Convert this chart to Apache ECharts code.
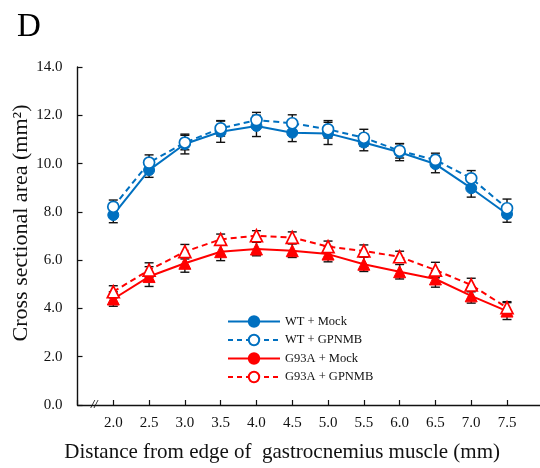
<!DOCTYPE html>
<html>
<head>
<meta charset="utf-8">
<script src="https://cdn.jsdelivr.net/npm/echarts@6/dist/echarts.min.js"></script>
<style>html,body{margin:0;padding:0;background:#fff;}#c{width:540px;height:468px;}</style>
</head>
<body>
<div id="c"></div>
<script>
// ---- data ----
var distances = [2.0, 2.5, 3.0, 3.5, 4.0, 4.5, 5.0, 5.5, 6.0, 6.5, 7.0, 7.5];
var wtMock      = [7.87, 9.73, 10.81, 11.32, 11.56, 11.28, 11.25, 10.87, 10.47, 9.98, 8.98, 7.91];
var wtMockErr   = [0.32, 0.30, 0.41, 0.44, 0.44, 0.37, 0.46, 0.34, 0.35, 0.36, 0.37, 0.34];
var wtGpnmb     = [8.21, 10.04, 10.87, 11.46, 11.80, 11.67, 11.42, 11.07, 10.53, 10.15, 9.39, 8.15];
var wtGpnmbErr  = [0.28, 0.32, 0.30, 0.32, 0.32, 0.35, 0.36, 0.35, 0.30, 0.28, 0.32, 0.38];
var g93aMock    = [4.39, 5.32, 5.87, 6.35, 6.46, 6.39, 6.25, 5.83, 5.52, 5.22, 4.52, 3.89];
var g93aMockErr = [0.30, 0.41, 0.37, 0.37, 0.28, 0.28, 0.32, 0.30, 0.30, 0.34, 0.30, 0.35];
var g93aGpnmb   = [4.69, 5.59, 6.35, 6.86, 7.01, 6.94, 6.56, 6.38, 6.14, 5.59, 4.97, 4.03];
var g93aGpnmbErr= [0.25, 0.30, 0.30, 0.22, 0.21, 0.23, 0.23, 0.25, 0.23, 0.32, 0.28, 0.25];
var seriesNames = ['WT + Mock', 'WT + GPNMB', 'G93A + Mock', 'G93A + GPNMB'];
var yTicks = [0, 2, 4, 6, 8, 10, 12, 14];

var BLUE = '#0070C0', RED = '#FF0000';
var FONT = '"Liberation Serif", "Times New Roman", serif';

function pairs(vals) { return distances.map(function (d, i) { return [d, vals[i]]; }); }
function errData(vals, errs) { return distances.map(function (d, i) { return [d, vals[i] - errs[i], vals[i] + errs[i]]; }); }

function errSeries(vals, errs) {
  return {
    type: 'custom',
    z: 1,
    silent: true,
    data: errData(vals, errs),
    renderItem: function (params, api) {
      var x = api.value(0);
      var lo = api.coord([x, api.value(1)]);
      var hi = api.coord([x, api.value(2)]);
      var w = 4.5;
      var st = { stroke: '#111', lineWidth: 1.4 };
      return {
        type: 'group',
        children: [
          { type: 'line', shape: { x1: lo[0], y1: lo[1], x2: hi[0], y2: hi[1] }, style: st },
          { type: 'line', shape: { x1: lo[0] - w, y1: lo[1], x2: lo[0] + w, y2: lo[1] }, style: st },
          { type: 'line', shape: { x1: hi[0] - w, y1: hi[1], x2: hi[0] + w, y2: hi[1] }, style: st }
        ]
      };
    }
  };
}

function lineSeries(name, vals, color, dashed, filled, symbol, size) {
  return {
    name: name,
    type: 'line',
    z: 3,
    data: pairs(vals),
    symbol: symbol,
    symbolSize: size,
    showAllSymbol: true,
    lineStyle: { color: color, width: 2, type: dashed ? [6, 4] : 'solid' },
    itemStyle: filled ? { color: color, borderColor: color, borderWidth: 1 } : { color: '#fff', borderColor: color, borderWidth: 1.7 },
    emphasis: { disabled: true }
  };
}

function legendSeries(name, color, dashed, filled) {
  return {
    name: name,
    type: 'line',
    data: [],
    symbol: 'circle',
    lineStyle: { color: color, width: 2, type: dashed ? [5, 4] : 'solid' },
    itemStyle: filled ? { color: color, borderColor: color, borderWidth: 1 } : { color: '#fff', borderColor: color, borderWidth: 1.6 }
  };
}

var chart = echarts.init(document.getElementById('c'), null, { renderer: 'canvas' });
chart.setOption({
  backgroundColor: '#fff',
  animation: false,
  title: {
    text: 'D', left: 12, top: 6,
    textStyle: { fontFamily: FONT, fontSize: 33, fontWeight: 'normal', color: '#000' }
  },
  legend: {
    data: seriesNames,
    orient: 'vertical',
    left: 222, top: 310,
    itemWidth: 52, itemHeight: 13, itemGap: 5.5,
    textStyle: { fontFamily: FONT, fontSize: 12.5, color: '#111' },
    selectedMode: false
  },
  grid: { left: 77.5, right: -2.8, top: 67, bottom: 63, containLabel: false, outerBoundsMode: 'none' },
  xAxis: {
    type: 'value',
    min: 1.5, max: 8.0, interval: 0.5,
    name: 'Distance from edge of  gastrocnemius muscle (mm)',
    nameLocation: 'middle', nameGap: 37,
    nameTextStyle: { fontFamily: FONT, fontSize: 21, color: '#111', padding: [0, 56, 0, 0] },
    axisLine: { onZero: false, lineStyle: { color: '#111', width: 1.4 } },
    axisTick: { inside: true, length: 5, lineStyle: { color: '#111', width: 1.2 } },
    axisLabel: {
      margin: 11,
      fontFamily: FONT, fontSize: 15, color: '#111',
      formatter: function (v) { return distances.indexOf(v) >= 0 ? v.toFixed(1) : ''; }
    },
    splitLine: { show: false }
  },
  yAxis: {
    type: 'value',
    min: yTicks[0], max: yTicks[yTicks.length - 1], interval: 2,
    name: 'Cross sectional area (mm²)',
    nameLocation: 'middle', nameGap: 45, nameMoveOverlap: false,
    nameTextStyle: { fontFamily: FONT, fontSize: 22, color: '#111', padding: [0, 0, 0, 26] },
    axisLine: { show: true, lineStyle: { color: '#111', width: 1.4 } },
    axisTick: { show: true, inside: true, length: 5, lineStyle: { color: '#111', width: 1.2 } },
    axisLabel: {
      margin: 15,
      fontFamily: FONT, fontSize: 15, color: '#111',
      formatter: function (v) { return v.toFixed(1); }
    },
    splitLine: { show: false }
  },
  graphic: [
    {
      type: 'text', left: 91, top: 399, z: 10,
      style: { text: '//', fontFamily: FONT, fontSize: 12, fontWeight: 'bold', fontStyle: 'italic', fill: '#111' }
    }
  ],
  series: [
    errSeries(wtMock, wtMockErr),
    errSeries(wtGpnmb, wtGpnmbErr),
    errSeries(g93aMock, g93aMockErr),
    errSeries(g93aGpnmb, g93aGpnmbErr),
    lineSeries('s-wt-mock', wtMock, BLUE, false, true, 'circle', 11),
    lineSeries('s-wt-gpnmb', wtGpnmb, BLUE, true, false, 'circle', 11),
    lineSeries('s-g93a-mock', g93aMock, RED, false, true, 'triangle', 12),
    lineSeries('s-g93a-gpnmb', g93aGpnmb, RED, true, false, 'triangle', 12),
    legendSeries(seriesNames[0], BLUE, false, true),
    legendSeries(seriesNames[1], BLUE, true, false),
    legendSeries(seriesNames[2], RED, false, true),
    legendSeries(seriesNames[3], RED, true, false)
  ]
});
</script>
</body>
</html>
